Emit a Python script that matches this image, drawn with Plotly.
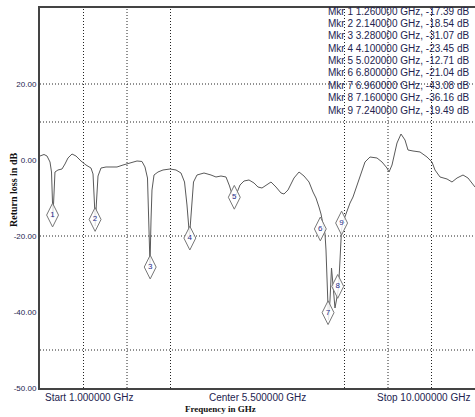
import plotly.graph_objects as go

# Trace (GHz, dB)
freq_ghz = [1.000, 1.083, 1.145, 1.207, 1.238, 1.259, 1.269, 1.279, 1.310, 1.372, 1.455, 1.517,
            1.579, 1.662, 1.745, 1.848, 1.952, 2.055, 2.097, 2.128, 2.144, 2.165, 2.200, 2.262,
            2.366, 2.469, 2.593, 2.717, 2.862, 3.007, 3.110, 3.172, 3.224, 3.255, 3.276, 3.297,
            3.317, 3.359, 3.441, 3.545, 3.690, 3.814, 3.917, 3.990, 4.041, 4.093, 4.134, 4.176,
            4.248, 4.393, 4.538, 4.641, 4.745, 4.848, 4.921, 4.972, 5.024, 5.076, 5.138, 5.221,
            5.324, 5.428, 5.510, 5.593, 5.697, 5.779, 5.883, 5.986, 6.048, 6.131, 6.255, 6.359,
            6.462, 6.566, 6.648, 6.710, 6.772, 6.814, 6.855, 6.897, 6.917, 6.948, 6.969, 7.000,
            7.031, 7.062, 7.103, 7.134, 7.176, 7.207, 7.238, 7.269, 7.331, 7.414, 7.476, 7.559,
            7.621, 7.724, 7.828, 7.972, 8.076, 8.179, 8.221, 8.283, 8.386, 8.469, 8.552, 8.614,
            8.717, 8.862, 9.007, 9.110, 9.172, 9.276, 9.421, 9.524, 9.628, 9.752, 9.855, 10.000]
return_loss_db = [1.05, 1.45, 1.05, -0.53, -3.16, -11.84, -15.26, -11.84, -3.16, -2.63, -2.37, -1.05,
                  0.53, 1.58, 1.05, -0.26, -1.32, -2.11, -3.68, -11.84, -17.37, -11.84, -4.21, -2.11,
                  -1.84, -1.84, -1.84, -1.32, -0.79, -0.26, -0.39, -1.84, -4.74, -15.79, -27.63, -15.79,
                  -7.89, -3.95, -3.16, -2.63, -2.37, -2.63, -3.42, -5.79, -11.84, -20.00, -13.16, -5.79,
                  -3.95, -3.42, -3.95, -4.47, -4.21, -4.47, -6.84, -8.95, -10.26, -8.42, -6.58, -5.53,
                  -5.26, -6.05, -7.11, -7.37, -6.58, -5.79, -7.11, -8.68, -8.95, -7.89, -4.74, -3.16,
                  -4.21, -5.79, -8.42, -10.00, -12.37, -14.21, -16.84, -19.47, -23.68, -34.21, -42.11, -36.84,
                  -28.42, -32.89, -38.95, -36.84, -33.68, -26.32, -18.42, -16.32, -13.95, -11.32, -9.74, -6.84,
                  -4.47, -0.53, 0.79, 0.53, -0.53, -2.11, -3.16, -1.32, 4.47, 6.84, 5.26, 2.63,
                  2.37, 2.11, 0.79, -0.53, -2.63, -4.47, -5.00, -5.79, -4.74, -3.95, -4.74, -7.11]

# Markers
marker_ids = ["1", "2", "3", "4", "5", "6", "7", "8", "9"]
marker_freq_ghz = [1.26, 2.14, 3.28, 4.10, 5.02, 6.80, 6.96, 7.16, 7.24]
marker_db = [-17.39, -18.54, -31.07, -23.45, -12.71, -21.04, -43.08, -36.16, -19.49]

# Axis tick labels
y_tick_vals = [20, 0, -20, -40, -60]
y_tick_text = ["20.00", "0.00", "-20.00", "-40.00", "-50.00"]
y_grid_vals = [20, 10, -20, -50]
x_grid_vals = [1.9, 2.8, 3.7, 7.3, 8.2, 9.1]
x_start, x_center, x_stop = 1.0, 5.5, 10.0

TXT = "#23234f"
FONT = "Liberation Sans, Arial, sans-serif"
SERIF = "Liberation Serif, Times New Roman, serif"

PLOT_BOTTOM_PAGE = 388.0
PLOT_HEIGHT = 380.0

def paper_y(page_y):
    return (PLOT_BOTTOM_PAGE - page_y) / PLOT_HEIGHT

fig = go.Figure()
fig.add_trace(go.Scatter(x=freq_ghz, y=return_loss_db, mode="lines",
                         line=dict(color="#5a5a5a", width=1), hoverinfo="skip",
                         showlegend=False))
fig.add_trace(go.Scatter(x=marker_freq_ghz, y=marker_db, mode="markers+text",
                         text=marker_ids, textposition="middle center",
                         textfont=dict(family=FONT, size=8, color="#1e2a8a"),
                         marker=dict(symbol="diamond-tall", size=17, color="rgba(255,255,255,0.85)",
                                     line=dict(color="#777777", width=1)),
                         yaxis="y2", showlegend=False, cliponaxis=False))

shapes = []
for gv in y_grid_vals:
    shapes.append(dict(type="line", xref="paper", x0=0, x1=1, yref="y", y0=gv, y1=gv,
                       line=dict(color="#222222", width=1, dash="1px,2px"), layer="below"))
for gv in x_grid_vals:
    shapes.append(dict(type="line", yref="paper", y0=0, y1=1, xref="x", x0=gv, x1=gv,
                       line=dict(color="#222222", width=1, dash="1px,2px"), layer="below"))

annotations = []
annotations.append(dict(text="Start %.6f GHz" % x_start, x=x_start, xref="x", xanchor="left", xshift=3,
                        y=paper_y(397), yref="paper", yanchor="middle", showarrow=False,
                        font=dict(family=FONT, size=10, color=TXT)))
annotations.append(dict(text="Center %.6f GHz" % x_center, x=x_center, xref="x", xanchor="center",
                        y=paper_y(397), yref="paper", yanchor="middle", showarrow=False,
                        font=dict(family=FONT, size=10, color=TXT)))
annotations.append(dict(text="Stop %.6f GHz" % x_stop, x=x_stop, xref="x", xanchor="right", xshift=-3,
                        y=paper_y(397), yref="paper", yanchor="middle", showarrow=False,
                        font=dict(family=FONT, size=10, color=TXT)))
annotations.append(dict(text="<b>Frequency in GHz</b>", x=0.414, xref="paper", xanchor="center",
                        y=paper_y(409), yref="paper", yanchor="middle", showarrow=False,
                        font=dict(family=SERIF, size=9, color="#111111")))
annotations.append(dict(text="<b>Return loss in dB</b>", x=-0.062, xref="paper", xanchor="center",
                        y=paper_y(190), yref="paper", yanchor="middle", showarrow=False, textangle=-90,
                        font=dict(family=SERIF, size=10, color="#111111")))
for i, (mid, mf, md) in enumerate(zip(marker_ids, marker_freq_ghz, marker_db)):
    annotations.append(dict(text="Mkr %s %.6f GHz, %.2f dB" % (mid, mf, md),
                            x=1, xref="paper", xanchor="right", xshift=-3,
                            y=paper_y(11 + 12.4 * i), yref="paper", yanchor="middle", showarrow=False,
                            font=dict(family=FONT, size=10, color=TXT)))

fig.update_layout(
    width=475, height=417,
    margin=dict(l=40, r=0, t=8, b=29),
    paper_bgcolor="white", plot_bgcolor="white",
    shapes=shapes, annotations=annotations,
    xaxis=dict(range=[x_start, x_stop], showgrid=False, zeroline=False, showticklabels=False,
               ticks="", showline=True, linecolor="#444444", linewidth=2, mirror=True),
    yaxis=dict(range=[-60, 40], showgrid=False, zeroline=False, tickvals=y_tick_vals,
               ticktext=y_tick_text, ticks="", showline=True, linecolor="#444444", linewidth=2,
               tickfont=dict(family=FONT, size=8, color=TXT)),
    yaxis2=dict(range=[-62.9, 37.1], overlaying="y", showgrid=False, zeroline=False,
                showticklabels=False, ticks="", showline=False, visible=False),
)

fig.write_html("out.html", config={"displayModeBar": False},
               post_script="document.body.style.margin='0';"
                           "document.documentElement.style.overflow='hidden';")
